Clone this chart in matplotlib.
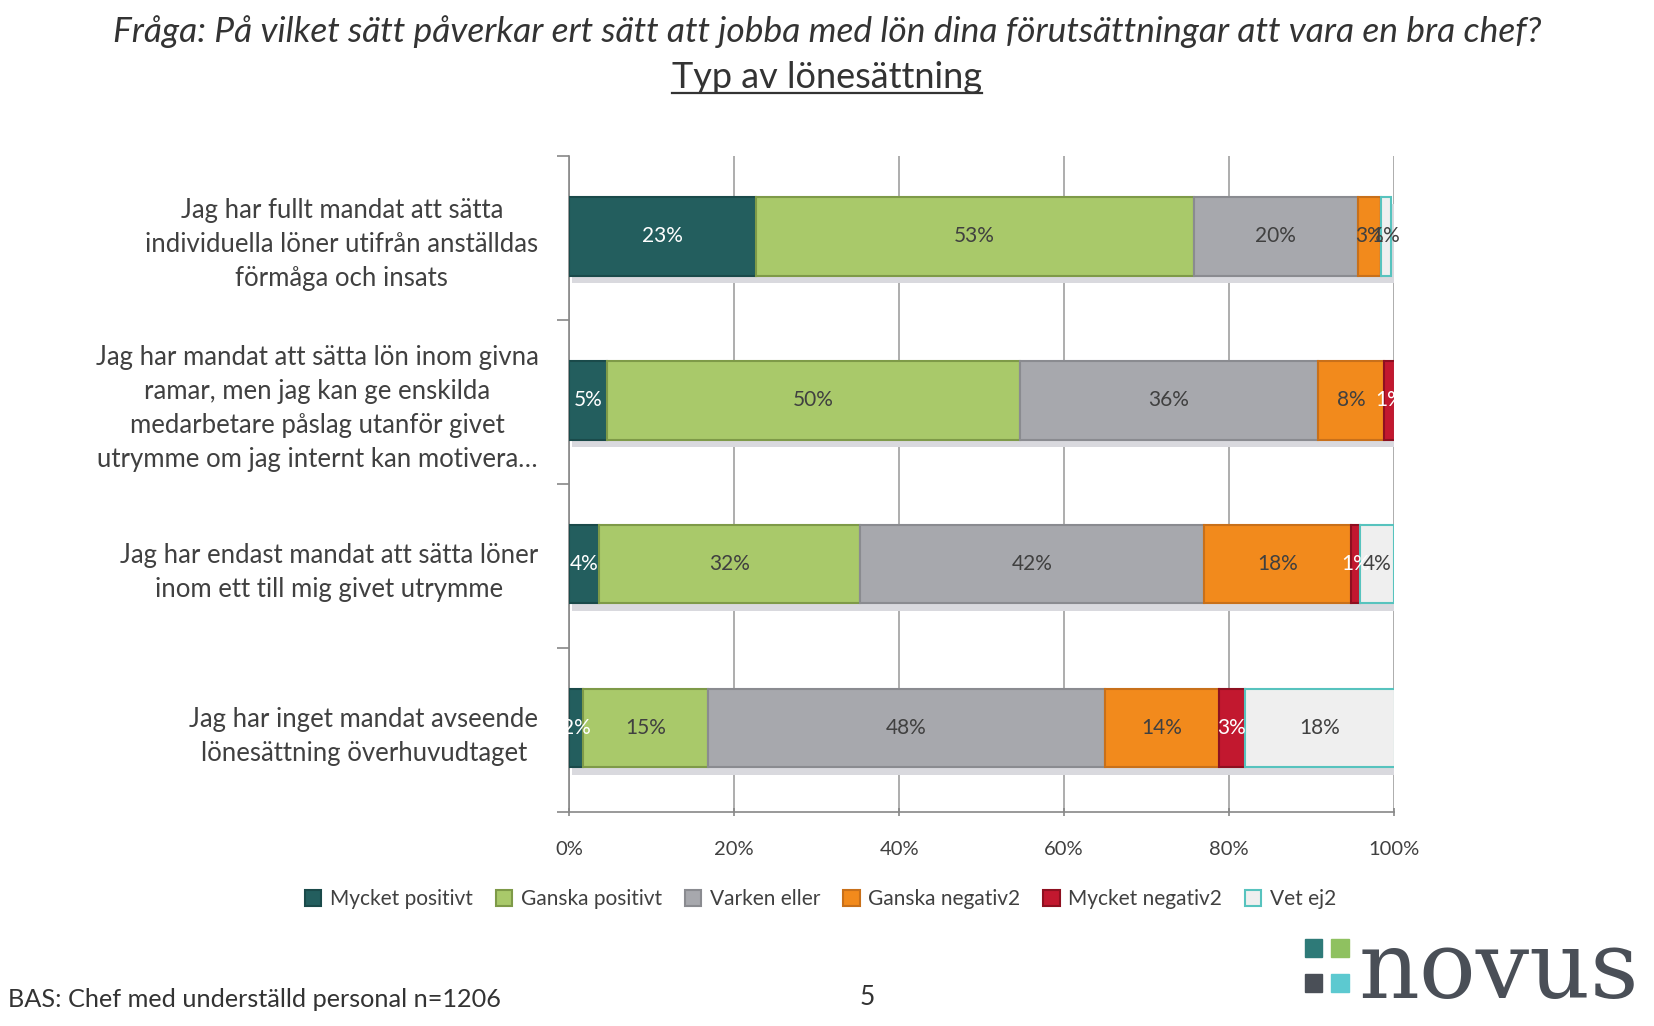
import numpy as np
import matplotlib
matplotlib.use("Agg")
import matplotlib.pyplot as plt
from matplotlib.patches import Rectangle
from matplotlib.lines import Line2D

plt.rcParams['font.family'] = ['Lato', 'DejaVu Sans']

categories = [
    "Jag har fullt mandat att sätta\nindividuella löner utifrån anställdas\nförmåga och insats",
    "Jag har mandat att sätta lön inom givna\nramar, men jag kan ge enskilda\nmedarbetare påslag utanför givet\nutrymme om jag internt kan motivera\u2026",
    "Jag har endast mandat att sätta löner\ninom ett till mig givet utrymme",
    "Jag har inget mandat avseende\nlönesättning överhuvudtaget",
]
series = ["Mycket positivt", "Ganska positivt", "Varken eller",
          "Ganska negativ2", "Mycket negativ2", "Vet ej2"]
mycket_pos = [22.6, 4.6, 3.6, 1.7]
ganska_pos = [53.1, 50.0, 31.7, 15.1]
varken = [19.9, 36.1, 41.6, 48.1]
ganska_neg = [2.8, 8.1, 17.9, 13.8]
mycket_neg = [0.0, 1.3, 1.0, 3.2]
vet_ej = [1.2, 0.0, 4.2, 18.2]

colors = ["#235E5E", "#A9C96A", "#A7A8AD", "#F28A1C", "#C2182F", "#EFEFEF"]
edges = ["#1A4A4A", "#7E9A48", "#8A8B90", "#C8701A", "#8E1020", "#57C3BE"]
txt_colors = ["white", "#404040", "#404040", "#404040", "white", "#404040"]

data = np.array([mycket_pos, ganska_pos, varken, ganska_neg, mycket_neg, vet_ej]) / 100.0

fig = plt.figure(figsize=(16.54, 10.26), dpi=100)
ax = fig.add_axes([0.344, 0.209, 0.499, 0.639])

y = np.arange(len(categories))
left = np.zeros(len(categories))
for i, name in enumerate(series):
    vals = data[i]
    # soft shadow under bars
    ax.barh(y + 0.035, vals, left=left + 0.004, height=0.48, color="#D9D9DE",
            zorder=2, linewidth=0)
    bars = ax.barh(y - 0.01, vals, left=left, height=0.48, color=colors[i],
                   edgecolor=edges[i], linewidth=1.5, label=name, zorder=3)
    for b, v, l in zip(bars, vals, left):
        if v > 0:
            ax.text(l + v / 2, b.get_y() + b.get_height() / 2, f"{v * 100:.0f}%",
                    ha="center", va="center", fontsize=15, color=txt_colors[i],
                    zorder=4)
    left += vals

ax.set_xlim(0, 1)
ax.set_ylim(len(categories) - 0.5, -0.5)
ax.set_xticks(np.arange(0, 1.01, 0.2))
ax.set_xticklabels([f"{int(t * 100)}%" for t in np.arange(0, 1.01, 0.2)],
                   fontsize=14.5, color="#404040")
ax.set_yticks(y)
ax.set_yticklabels(categories, fontsize=18.5, color="#404040",
                   multialignment="center", linespacing=1.45)
ax.set_yticks(np.arange(-0.5, len(categories)), minor=True)
ax.tick_params(axis="y", which="major", length=0, pad=22)
ax.tick_params(axis="y", which="minor", length=9, color="#888888", width=1.2)
ax.tick_params(axis="x", length=6, color="#888888", width=1.2, direction="inout", pad=18)
ax.grid(axis="x", color="#A0A0A0", linewidth=1.2, zorder=0)
ax.set_axisbelow(True)
for s in ["top", "right"]:
    ax.spines[s].set_visible(False)
for s in ["left", "bottom"]:
    ax.spines[s].set_color("#888888")
    ax.spines[s].set_linewidth(1.2)

leg = fig.legend(loc="center", bbox_to_anchor=(0.496, 0.124), ncol=6, frameon=False,
                 fontsize=15, handlelength=0.8, handleheight=0.8, handletextpad=0.4,
                 columnspacing=1.1)
for t in leg.get_texts():
    t.set_color("#404040")

fig.text(0.5, 0.969, "Fråga: På vilket sätt påverkar ert sätt att jobba med lön dina förutsättningar att vara en bra chef?",
         ha="center", va="center", fontsize=25.5, style="italic", color="#333333")
sub = fig.text(0.5, 0.924, "Typ av lönesättning", ha="center", va="center",
               fontsize=26, color="#333333")
fig.canvas.draw()
bb = sub.get_window_extent().transformed(fig.transFigure.inverted())
fig.add_artist(Line2D([bb.x0, bb.x1], [bb.y0 + 0.001, bb.y0 + 0.001],
                      transform=fig.transFigure, color="#333333", linewidth=1.6))

fig.text(0.005, 0.026, "BAS: Chef med underställd personal n=1206", ha="left",
         va="center", fontsize=18.2, color="#333333")
fig.text(0.524, 0.028, "5", ha="center", va="center", fontsize=19, color="#333333")

# novus logo
sq = [(0.789, 0.0675, "#2E7A78"), (0.805, 0.0675, "#8FC160"),
      (0.789, 0.0335, "#4A4F57"), (0.805, 0.0335, "#5CC9D0")]
for x0, y0, c in sq:
    fig.add_artist(Rectangle((x0, y0), 0.0105, 0.017, transform=fig.transFigure,
                             color=c))
fig.text(0.8215, 0.053, "novus", ha="left", va="center", fontsize=68,
         family="DejaVu Serif", color="#4A4F57")

fig.savefig("out.png", dpi=100)
